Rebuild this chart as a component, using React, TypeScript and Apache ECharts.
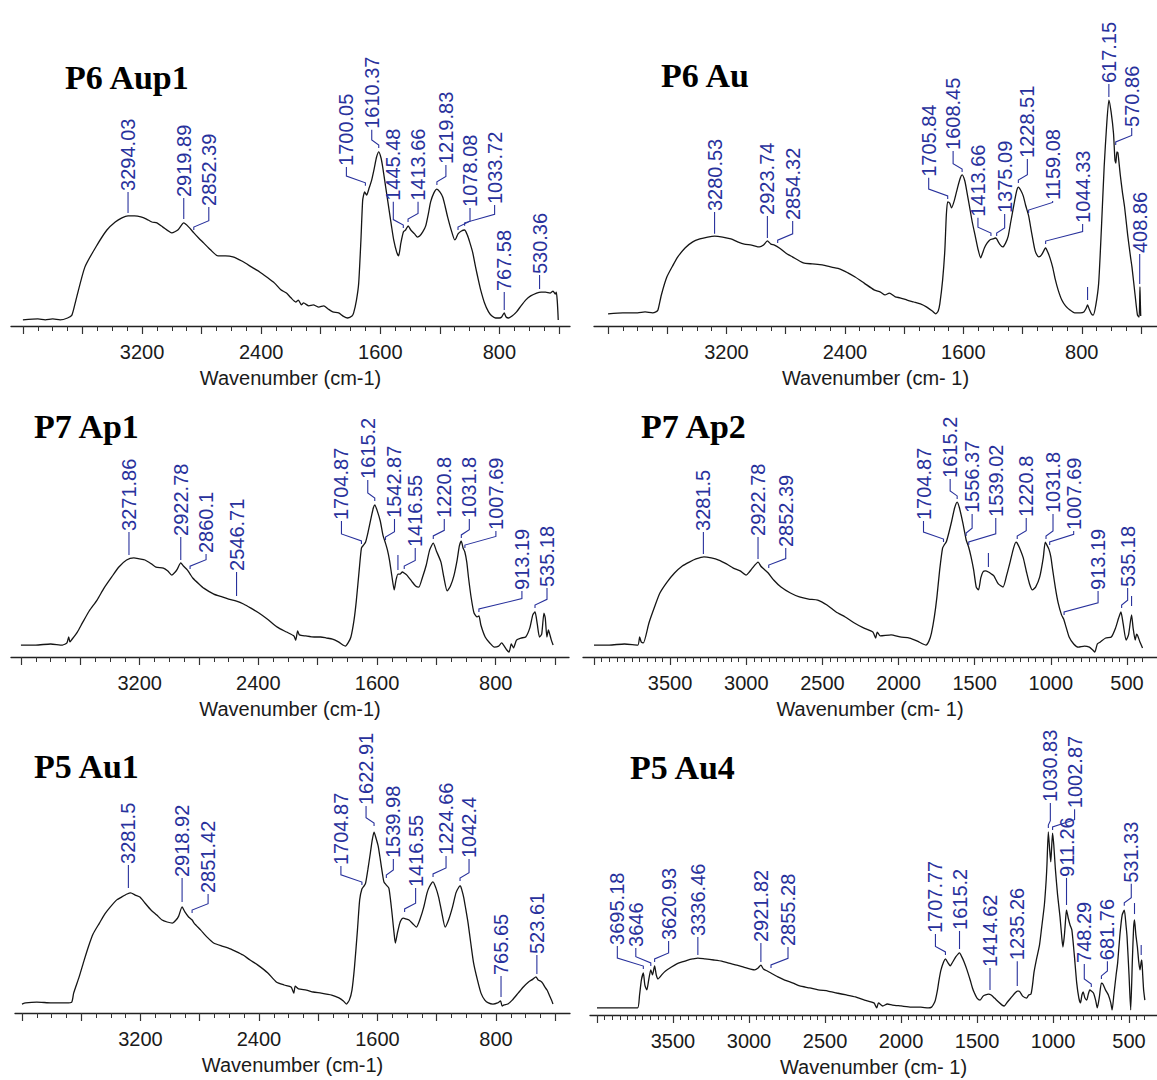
import { useEffect, useRef } from "react";
import * as echarts from "echarts";

type Point = [number, number];
// wavenumber, label text, leader start value, text start value, column shift (px)
type Peak = [number, string, number, number, number];

const BLUE = "#28319c";
const INK = "#151515";

const sampleTitles = ["P6 Aup1", "P6 Au", "P7 Ap1", "P7 Ap2", "P5 Au1", "P5 Au4"];

// tick values of the wavenumber axes
const labels800 = [800, 1600, 2400, 3200];
const labels500 = [500, 1000, 1500, 2000, 2500, 3000, 3500];
const steps = (from: number, to: number, step: number) => {
  const out: number[] = [];
  for (let v = from; v <= to; v += step) out.push(v);
  return out;
};
const ticks100 = steps(400, 4000, 100);
const ticks400 = steps(400, 4000, 400);
const ticks50 = steps(400, 4000, 50);
const ticks500 = steps(500, 4000, 500);

// ---- P6 Aup1 ----
const aup1Spectrum: Point[] = [
  [4000, 1.9], [3900, 2.2], [3850, 1.9], [3800, 2.2], [3750, 1.9], [3700, 2.5], [3671, 3.4], [3644, 8.1],
  [3584, 18.4], [3510, 24.7], [3436, 30.0], [3380, 32.5], [3335, 33.8], [3294, 34.4], [3250, 34.4],
  [3208, 34.1], [3170, 33.4], [3134, 32.5], [3100, 32.2], [3060, 30.9], [3000, 29.1], [2960, 30.0],
  [2920, 32.2], [2886, 30.9], [2852, 29.1], [2820, 27.5], [2785, 25.9], [2740, 23.8], [2690, 21.9],
  [2640, 21.9], [2590, 21.6], [2530, 20.3], [2463, 18.4], [2410, 16.9], [2363, 15.3], [2310, 13.4],
  [2268, 11.3], [2230, 10.3], [2200, 8.8], [2168, 7.5], [2150, 8.1], [2130, 6.6], [2115, 7.2],
  [2080, 6.3], [2050, 6.6], [2013, 5.9], [1980, 6.3], [1950, 5.3], [1919, 4.4], [1880, 4.1], [1850, 3.1],
  [1819, 2.5], [1790, 3.1], [1779, 4.1], [1760, 8.1], [1745, 13.4], [1730, 26.9], [1718, 39.4],
  [1705, 41.9], [1692, 40.9], [1675, 43.1], [1658, 45.6], [1640, 49.4], [1625, 52.8], [1610, 54.4],
  [1595, 52.5], [1584, 49.7], [1565, 43.8], [1544, 37.2], [1525, 31.3], [1510, 26.9], [1490, 23.1],
  [1477, 21.9], [1462, 25.9], [1445, 29.4], [1430, 30.0], [1413, 31.3], [1395, 30.0], [1370, 28.8],
  [1350, 27.8], [1336, 28.1], [1315, 29.4], [1295, 31.3], [1275, 35.6], [1262, 38.8], [1240, 41.6],
  [1220, 42.8], [1200, 41.9], [1181, 40.3], [1165, 37.5], [1148, 34.1], [1120, 29.4], [1100, 26.9],
  [1090, 27.5], [1078, 28.8], [1055, 29.7], [1034, 30.0], [1015, 28.4], [1000, 26.3], [980, 23.1],
  [960, 18.4], [940, 14.1], [926, 11.3], [900, 7.2], [873, 4.4], [850, 3.1], [826, 2.5], [800, 2.5],
  [785, 2.8], [768, 4.1], [755, 2.8], [738, 2.5], [715, 3.1], [685, 4.4], [655, 6.3], [624, 8.1],
  [590, 9.4], [550, 10.3], [520, 10.6], [490, 10.6], [460, 10.3], [440, 10.9], [425, 10.0], [418, 10.6],
  [412, 8.1], [408, 5.0], [405, 1.9],
];
const aup1Peaks: Peak[] = [
  [3294.03, "3294.03", 35.3, 41.9, 0], [2919.89, "2919.89", 33.4, 40.0, 0], [2852.39, "2852.39", 30.0, 37.2, 15],
  [1700.05, "1700.05", 43.8, 49.7, -19], [1610.37, "1610.37", 55.6, 61.3, -7], [1445.48, "1445.48", 30.6, 38.8, -10],
  [1413.66, "1413.66", 32.5, 38.8, 10], [1219.83, "1219.83", 44.1, 50.3, 9], [1078.08, "1078.08", 30.0, 36.9, 12],
  [1033.72, "1033.72", 31.3, 37.8, 30], [767.58, "767.58", 5.0, 10.6, 0], [530.36, "530.36", 11.6, 15.9, 0],
];

// ---- P6 Au ----
const auSpectrum: Point[] = [
  [4000, 3.8], [3900, 4.1], [3800, 4.1], [3750, 4.4], [3700, 4.1], [3677, 4.4], [3663, 5.0], [3640, 9.7],
  [3603, 15.3], [3560, 19.1], [3529, 21.6], [3480, 24.4], [3428, 26.3], [3380, 27.2], [3327, 27.8],
  [3280, 28.1], [3226, 27.8], [3170, 27.2], [3125, 26.3], [3080, 25.6], [3031, 25.3], [2977, 24.7],
  [2950, 25.3], [2924, 26.6], [2900, 25.6], [2876, 25.3], [2843, 24.4], [2800, 22.8], [2755, 21.6],
  [2681, 19.7], [2620, 19.4], [2553, 19.1], [2490, 18.4], [2432, 17.8], [2380, 16.6], [2331, 15.3],
  [2270, 13.4], [2203, 11.3], [2160, 10.6], [2129, 9.7], [2100, 10.3], [2060, 9.1], [2028, 8.8],
  [1980, 8.1], [1934, 7.5], [1890, 6.9], [1847, 5.9], [1810, 4.7], [1786, 3.8], [1770, 4.7], [1759, 6.9],
  [1740, 14.4], [1725, 23.8], [1715, 34.7], [1706, 38.8], [1692, 38.4], [1680, 36.9], [1660, 39.4],
  [1640, 43.1], [1620, 46.3], [1608, 47.2], [1590, 45.3], [1575, 41.6], [1558, 37.2], [1540, 32.5],
  [1521, 28.4], [1500, 23.8], [1483, 21.3], [1470, 22.8], [1458, 24.4], [1440, 25.9], [1421, 26.9],
  [1400, 27.2], [1384, 27.5], [1375, 27.2], [1355, 25.6], [1334, 24.7], [1315, 25.9], [1297, 28.1],
  [1280, 32.5], [1259, 37.8], [1240, 42.2], [1228, 43.4], [1210, 42.2], [1195, 40.6], [1180, 37.8],
  [1159, 34.4], [1140, 29.4], [1120, 24.4], [1110, 22.8], [1090, 21.6], [1072, 22.2], [1050, 24.1],
  [1044, 24.4], [1030, 23.1], [1015, 21.3], [997, 18.4], [980, 14.7], [960, 11.3], [935, 8.1], [910, 6.3],
  [880, 5.0], [848, 4.1], [810, 4.1], [786, 4.4], [770, 5.6], [761, 6.6], [750, 5.3], [735, 3.8],
  [723, 3.4], [705, 6.6], [686, 13.4], [668, 30.0], [649, 49.7], [632, 62.8], [617, 70.6], [602, 66.9],
  [586, 60.3], [576, 51.9], [570, 50.9], [563, 54.4], [556, 54.1], [540, 47.2], [525, 41.6], [511, 37.2],
  [490, 28.4], [470, 21.3], [461, 18.4], [440, 9.7], [424, 3.4], [413, 2.8], [409, 8.1], [407, 12.2],
  [405, 8.1], [402, 3.1],
];
const auPeaks: Peak[] = [
  [3280.53, "3280.53", 28.8, 35.6, 0], [2923.74, "2923.74", 27.5, 34.4, 0], [2854.32, "2854.32", 25.9, 32.8, 15],
  [1705.84, "1705.84", 39.7, 46.3, -19], [1608.45, "1608.45", 48.1, 54.7, -9], [1413.66, "1413.66", 28.1, 33.8, -13],
  [1375.09, "1375.09", 28.1, 35.0, 8], [1228.51, "1228.51", 44.7, 52.2, 9], [1159.08, "1159.08", 35.3, 39.1, 24],
  [1044.33, "1044.33", 25.6, 31.9, 37], [761, "", 8.1, 12.2, 0], [617.15, "617.15", 71.6, 75.6, 0],
  [570.86, "570.86", 56.6, 61.9, 16], [408.86, "408.86", 13.1, 22.5, 0],
];

// ---- P7 Ap1 ----
const ap1Spectrum: Point[] = [
  [4000, 4.6], [3900, 4.6], [3800, 5.0], [3720, 4.6], [3690, 5.4], [3678, 7.7], [3670, 5.8], [3660, 6.5],
  [3620, 9.6], [3586, 13.1], [3540, 17.7], [3487, 21.9], [3440, 26.5], [3388, 30.8], [3340, 34.6],
  [3288, 37.3], [3239, 38.1], [3200, 37.7], [3164, 37.3], [3120, 35.8], [3090, 34.6], [3040, 34.2],
  [3010, 33.1], [2983, 31.5], [2960, 32.7], [2946, 33.8], [2923, 36.2], [2905, 35.0], [2879, 33.5],
  [2860, 31.9], [2842, 30.4], [2800, 28.1], [2768, 26.5], [2700, 24.2], [2644, 23.1], [2600, 22.3],
  [2547, 21.5], [2500, 20.4], [2450, 18.8], [2396, 16.9], [2340, 14.6], [2272, 11.5], [2210, 9.6],
  [2160, 8.1], [2148, 6.5], [2135, 10.0], [2123, 8.5], [2080, 8.1], [2024, 7.7], [1980, 7.7], [1940, 7.3],
  [1900, 6.9], [1860, 5.8], [1830, 4.6], [1813, 4.2], [1795, 5.4], [1776, 7.7], [1755, 14.2], [1739, 21.9],
  [1720, 33.5], [1705, 41.9], [1690, 43.1], [1677, 44.2], [1660, 48.1], [1640, 53.5], [1625, 57.3],
  [1615, 58.5], [1600, 56.5], [1578, 52.3], [1560, 46.9], [1543, 43.8], [1530, 41.2], [1516, 37.3],
  [1500, 31.2], [1484, 25.8], [1472, 29.6], [1459, 31.9], [1445, 31.9], [1429, 32.7], [1417, 32.3],
  [1399, 31.5], [1367, 29.2], [1340, 27.3], [1318, 26.9], [1295, 30.4], [1268, 35.4], [1245, 41.2],
  [1221, 43.8], [1200, 40.8], [1169, 36.5], [1150, 30.8], [1127, 25.4], [1105, 27.3], [1082, 31.2],
  [1060, 37.3], [1045, 42.7], [1032, 44.6], [1020, 41.9], [1008, 40.4], [995, 36.5], [983, 30.4],
  [965, 22.7], [946, 16.9], [925, 15.4], [913, 15.8], [900, 12.3], [871, 7.7], [840, 5.4], [809, 3.8],
  [780, 4.2], [760, 5.4], [747, 4.6], [725, 2.7], [710, 1.9], [695, 5.0], [680, 3.5], [660, 6.5],
  [630, 7.3], [598, 7.7], [570, 11.2], [550, 16.2], [535, 17.3], [520, 12.7], [505, 7.7], [490, 8.8],
  [475, 16.9], [466, 15.0], [455, 7.7], [445, 10.4], [438, 9.2], [425, 6.5], [413, 4.6],
];
const ap1Peaks: Peak[] = [
  [3271.86, "3271.86", 39.2, 48.1, 0], [2922.78, "2922.78", 37.3, 46.2, 0], [2860.1, "2860.1", 33.8, 39.6, 16],
  [2546.71, "2546.71", 23.5, 32.7, 0], [1704.87, "1704.87", 43.5, 52.3, -20], [1615.2, "1615.2", 60.0, 68.1, -7],
  [1542.87, "1542.87", 45.0, 53.1, 9], [1459, "", 33.5, 39.2, 0], [1416.55, "1416.55", 33.8, 41.9, 11],
  [1220.8, "1220.8", 45.4, 53.1, 11], [1031.8, "1031.8", 45.8, 53.1, 8], [1007.69, "1007.69", 41.9, 48.5, 31],
  [913.19, "913.19", 17.3, 25.4, 43], [535.18, "535.18", 18.8, 26.5, 12],
];

// ---- P7 Ap2 ----
const ap2Spectrum: Point[] = [
  [4000, 4.6], [3900, 4.6], [3800, 5.0], [3712, 4.6], [3700, 7.7], [3690, 5.8], [3676, 5.4], [3639, 13.1],
  [3600, 19.6], [3567, 24.6], [3520, 28.8], [3471, 32.3], [3420, 35.0], [3374, 36.5], [3330, 37.7],
  [3278, 38.5], [3230, 38.1], [3181, 37.3], [3130, 35.8], [3085, 34.2], [3040, 33.1], [3001, 31.5],
  [2980, 32.7], [2965, 33.8], [2922, 36.5], [2905, 35.0], [2892, 34.2], [2856, 32.3], [2820, 29.6],
  [2772, 26.9], [2710, 24.6], [2651, 23.1], [2590, 22.3], [2531, 21.9], [2470, 20.0], [2410, 17.3],
  [2350, 15.4], [2290, 13.1], [2230, 11.2], [2169, 9.6], [2150, 7.3], [2140, 9.6], [2120, 8.1],
  [2049, 8.5], [1990, 7.7], [1928, 7.3], [1880, 6.2], [1840, 5.0], [1820, 4.6], [1800, 6.2], [1784, 9.2],
  [1765, 15.4], [1748, 23.1], [1730, 33.5], [1711, 41.9], [1700, 43.1], [1687, 44.2], [1670, 47.7],
  [1651, 52.3], [1632, 57.3], [1615, 59.6], [1600, 57.3], [1579, 51.9], [1565, 47.7], [1556, 45.0],
  [1540, 42.3], [1525, 38.8], [1507, 33.5], [1490, 26.9], [1475, 25.8], [1460, 30.4], [1446, 32.7],
  [1430, 33.1], [1410, 32.7], [1390, 31.9], [1374, 31.2], [1345, 28.1], [1314, 26.9], [1290, 31.5],
  [1266, 36.9], [1245, 41.9], [1229, 44.2], [1221, 43.8], [1200, 41.2], [1181, 38.1], [1160, 32.7],
  [1140, 28.1], [1121, 25.8], [1100, 26.9], [1073, 30.8], [1050, 38.1], [1037, 44.2], [1030, 43.5],
  [1013, 41.5], [1000, 38.5], [988, 33.5], [970, 26.5], [952, 20.8], [930, 16.2], [916, 14.6], [900, 11.5],
  [880, 7.7], [850, 5.0], [820, 3.8], [780, 4.2], [747, 3.8], [725, 2.7], [711, 1.9], [695, 5.0],
  [675, 5.8], [640, 7.3], [603, 7.7], [575, 11.2], [555, 15.0], [540, 17.3], [525, 12.7], [506, 6.5],
  [490, 8.5], [470, 16.2], [460, 11.2], [446, 6.5], [437, 8.8], [429, 8.1], [415, 5.8], [398, 3.5],
];
const ap2Peaks: Peak[] = [
  [3281.5, "3281.5", 39.6, 48.1, 0], [2922.78, "2922.78", 37.7, 46.2, 0], [2852.39, "2852.39", 34.2, 41.9, 17],
  [1704.87, "1704.87", 44.2, 52.3, -20], [1615.2, "1615.2", 60.8, 68.5, -7], [1556.37, "1556.37", 46.5, 55.0, 6],
  [1539.02, "1539.02", 43.1, 53.5, 27], [1410, "", 34.6, 40.0, 0], [1220.8, "1220.8", 45.4, 53.5, 9],
  [1031.8, "1031.8", 45.4, 55.0, 7], [1007.69, "1007.69", 43.1, 48.5, 24], [913.19, "913.19", 16.2, 25.4, 34],
  [535.18, "535.18", 18.8, 26.5, 6], [470, "", 19.6, 23.5, 0],
];

// ---- P5 Au1 ----
const au1Spectrum: Point[] = [
  [4000, 3.2], [3975, 3.6], [3900, 3.9], [3800, 3.6], [3700, 3.6], [3664, 3.9], [3651, 7.1], [3614, 12.9],
  [3580, 18.9], [3552, 23.6], [3520, 28.2], [3477, 32.1], [3440, 35.4], [3403, 37.9], [3360, 40.4],
  [3328, 41.4], [3290, 42.5], [3266, 42.9], [3235, 42.1], [3204, 41.4], [3170, 39.3], [3129, 36.8],
  [3090, 35.0], [3054, 33.2], [3020, 32.5], [2985, 32.1], [2960, 33.2], [2942, 34.6], [2919, 37.9],
  [2900, 36.1], [2875, 34.3], [2851, 33.2], [2838, 32.1], [2793, 29.6], [2750, 27.1], [2706, 25.0],
  [2650, 23.9], [2606, 23.2], [2560, 22.1], [2507, 20.7], [2460, 18.9], [2407, 17.1], [2340, 14.3],
  [2283, 11.1], [2230, 10.0], [2183, 9.3], [2165, 7.1], [2155, 9.6], [2133, 8.6], [2080, 8.2], [2034, 7.5],
  [1980, 7.1], [1909, 6.4], [1860, 5.4], [1830, 4.3], [1810, 3.2], [1790, 4.6], [1772, 8.2], [1755, 16.4],
  [1735, 29.6], [1720, 40.4], [1705, 44.3], [1690, 45.4], [1680, 46.4], [1665, 51.1], [1648, 57.1],
  [1635, 61.8], [1623, 64.6], [1610, 62.5], [1595, 59.6], [1580, 54.6], [1565, 49.3], [1556, 46.8],
  [1540, 45.7], [1523, 44.6], [1510, 39.6], [1499, 34.3], [1488, 28.6], [1479, 25.0], [1465, 28.6],
  [1449, 32.1], [1435, 33.6], [1424, 33.9], [1410, 33.6], [1387, 33.2], [1360, 31.8], [1337, 30.7],
  [1310, 33.9], [1287, 37.9], [1265, 42.9], [1250, 45.0], [1225, 46.8], [1205, 44.6], [1187, 41.4],
  [1165, 35.7], [1143, 30.7], [1120, 33.2], [1093, 37.9], [1070, 42.9], [1050, 45.0], [1040, 45.4],
  [1030, 43.9], [1018, 41.4], [1005, 37.5], [988, 32.1], [970, 25.0], [951, 17.9], [925, 11.8], [901, 7.1],
  [875, 4.6], [851, 3.6], [820, 3.2], [789, 3.6], [769, 4.3], [758, 2.5], [745, 2.9], [720, 3.2], [690, 4.6],
  [650, 7.1], [615, 9.3], [580, 11.1], [550, 12.1], [530, 12.9], [515, 11.8], [500, 11.4], [485, 10.7],
  [470, 9.3], [455, 8.2], [440, 6.4], [425, 4.6], [415, 3.2],
];
const au1Peaks: Peak[] = [
  [3281.5, "3281.5", 44.6, 52.9, 0], [2918.92, "2918.92", 39.6, 48.2, 0], [2851.42, "2851.42", 35.7, 42.5, 16],
  [1704.87, "1704.87", 45.7, 52.5, -21], [1622.91, "1622.91", 66.8, 73.9, -8], [1539.98, "1539.98", 48.2, 55.0, 7],
  [1416.55, "1416.55", 36.1, 44.6, 11], [1224.66, "1224.66", 48.6, 56.1, 13], [1042.4, "1042.4", 47.1, 55.0, 9],
  [765.65, "765.65", 5.7, 13.2, 0], [523.61, "523.61", 13.9, 20.7, 0],
];

// ---- P5 Au4 ----
const au4Spectrum: Point[] = [
  [4000, 2.5], [3900, 2.5], [3800, 2.5], [3733, 2.5], [3720, 7.1], [3708, 12.4], [3695, 14.9], [3685, 10.6],
  [3672, 8.9], [3660, 12.4], [3646, 16.0], [3635, 14.2], [3621, 17.4], [3610, 14.2], [3598, 12.8],
  [3570, 14.5], [3549, 15.6], [3510, 17.0], [3475, 18.1], [3440, 18.8], [3402, 19.5], [3370, 19.9],
  [3336, 20.2], [3290, 19.9], [3231, 19.5], [3180, 19.1], [3133, 18.4], [3080, 17.7], [3035, 17.0],
  [2990, 16.3], [2962, 16.0], [2940, 16.7], [2922, 17.7], [2905, 16.3], [2880, 15.6], [2856, 14.9],
  [2810, 13.5], [2765, 12.4], [2710, 11.3], [2667, 10.3], [2600, 9.6], [2545, 8.9], [2480, 8.5],
  [2423, 7.8], [2360, 7.1], [2300, 6.4], [2240, 5.3], [2178, 4.3], [2160, 2.5], [2148, 4.3], [2120, 3.2],
  [2090, 3.9], [2056, 3.5], [2000, 3.2], [1933, 2.8], [1870, 2.8], [1820, 2.5], [1799, 2.8], [1785, 3.9],
  [1774, 5.3], [1760, 8.9], [1750, 12.4], [1737, 16.0], [1720, 18.8], [1708, 19.9], [1690, 18.4],
  [1676, 17.4], [1660, 18.8], [1640, 20.6], [1625, 21.6], [1615, 22.0], [1600, 20.6], [1585, 18.8],
  [1566, 16.0], [1545, 12.4], [1530, 9.6], [1517, 7.8], [1500, 6.0], [1480, 5.3], [1460, 6.7], [1444, 7.1],
  [1425, 7.4], [1407, 7.1], [1385, 6.0], [1358, 4.6], [1335, 3.5], [1321, 3.2], [1300, 4.6], [1272, 6.4],
  [1250, 7.8], [1235, 8.5], [1223, 8.5], [1200, 6.7], [1174, 6.0], [1160, 7.1], [1145, 7.4], [1135, 10.6],
  [1125, 15.2], [1110, 19.5], [1089, 24.8], [1075, 30.9], [1057, 39.0], [1045, 47.9], [1040, 53.2],
  [1031, 64.9], [1022, 58.5], [1015, 54.3], [1010, 58.5], [1003, 64.5], [995, 60.3], [985, 52.1],
  [970, 42.6], [954, 34.8], [942, 27.3], [935, 24.1], [925, 28.4], [915, 35.5], [911, 37.2], [900, 34.4],
  [888, 31.9], [876, 30.1], [860, 21.3], [844, 11.3], [830, 6.0], [819, 4.3], [810, 7.1], [802, 8.2],
  [790, 6.0], [778, 5.3], [768, 7.4], [758, 8.9], [748, 8.5], [734, 7.8], [720, 5.3], [709, 2.5],
  [695, 6.4], [682, 11.3], [672, 11.0], [655, 8.9], [636, 7.1], [620, 4.3], [611, 1.8], [600, 7.1],
  [585, 14.2], [575, 18.4], [560, 28.4], [545, 35.5], [531, 37.2], [520, 31.9], [513, 27.7], [500, 14.2],
  [489, 1.8], [478, 19.5], [470, 30.9], [464, 33.7], [455, 28.4], [445, 24.1], [436, 18.8], [428, 16.0],
  [420, 18.8], [416, 19.5], [410, 14.2], [404, 8.9], [396, 5.3],
];
const au4Peaks: Peak[] = [
  [3695.18, "3695.18", 16.3, 24.5, -26], [3646, "3646", 17.4, 23.8, -15], [3620.93, "3620.93", 18.8, 26.2, 14],
  [3336.46, "3336.46", 21.3, 27.7, 0], [2921.82, "2921.82", 18.8, 25.5, 0], [2855.28, "2855.28", 16.7, 24.1, 17],
  [1707.77, "1707.77", 21.3, 28.7, -10], [1615.2, "1615.2", 23.4, 29.8, 0], [1414.62, "1414.62", 8.9, 16.7, 0],
  [1235.26, "1235.26", 10.3, 19.1, 0], [1030.83, "1030.83", 66.3, 75.2, 2], [1002.87, "1002.87", 65.6, 73.0, 22],
  [911.26, "911.26", 39.0, 48.6, 0], [748.29, "748.29", 9.9, 18.1, -7], [681.76, "681.76", 12.8, 19.1, 6],
  [531.33, "531.33", 38.7, 46.5, 7], [464, "", 35.8, 39.7, 0], [420, "", 21.3, 24.8, 0],
];

type Panel = {
  title: string;
  spectrum: Point[];
  peaks: Peak[];
  box: { left: number; top: number; width: number; height: number };
  min: number;
  max: number;
  fine: boolean; // 500-step labelling with 50-step ticks
  axisName: string;
  titleAt: [number, number];
};

const panels: Panel[] = [
  { title: sampleTitles[0], spectrum: aup1Spectrum, peaks: aup1Peaks, box: { left: 11, top: 6, width: 559, height: 320 }, min: 326, max: 4080, fine: false, axisName: "Wavenumber (cm-1)", titleAt: [65, 77] },
  { title: sampleTitles[1], spectrum: auSpectrum, peaks: auPeaks, box: { left: 594, top: 6, width: 563, height: 320 }, min: 292, max: 4095, fine: false, axisName: "Wavenumber (cm- 1)", titleAt: [661, 75] },
  { title: sampleTitles[2], spectrum: ap1Spectrum, peaks: ap1Peaks, box: { left: 11, top: 397, width: 558, height: 260 }, min: 306, max: 4067, fine: false, axisName: "Wavenumber (cm-1)", titleAt: [34, 426] },
  { title: sampleTitles[3], spectrum: ap2Spectrum, peaks: ap2Peaks, box: { left: 583, top: 397, width: 574, height: 260 }, min: 303, max: 4072, fine: true, axisName: "Wavenumber (cm- 1)", titleAt: [641, 426] },
  { title: sampleTitles[4], spectrum: au1Spectrum, peaks: au1Peaks, box: { left: 15, top: 733, width: 555, height: 280 }, min: 300, max: 4047, fine: false, axisName: "Wavenumber (cm-1)", titleAt: [34, 766] },
  { title: sampleTitles[5], spectrum: au4Spectrum, peaks: au4Peaks, box: { left: 590, top: 733, width: 567, height: 282 }, min: 316, max: 4046, fine: true, axisName: "Wavenumber (cm- 1)", titleAt: [630, 767] },
];

const SANS = "'Liberation Sans', Arial, sans-serif";

function peakRenderer(peaks: Peak[]) {
  return (params: any, api: any) => {
    const [wn, text, vStart, vText, dx] = peaks[params.dataIndex];
    const p = api.coord([wn, vStart]);
    const t = api.coord([wn, vText]);
    const x0 = p[0];
    const y0 = p[1];
    const yT = t[1];
    const x1 = x0 + dx;
    let pts: number[][];
    if (dx === 0) {
      pts = [[x0, y0], [x0, yT]];
    } else {
      const yA = Math.max(y0 - 3, yT);
      const yB = Math.max(yA - (4 + Math.abs(dx) * 0.15), yT);
      pts = [[x0, y0], [x0, yA], [x1, yB], [x1, yT]];
    }
    const children: any[] = [
      { type: "polyline", shape: { points: pts }, style: { stroke: BLUE, lineWidth: 1.1, fill: "none" }, silent: true },
    ];
    if (text) {
      children.push({
        type: "text",
        x: x1,
        y: yT - 1,
        rotation: Math.PI / 2,
        style: { text, fill: BLUE, fontSize: 20, fontFamily: SANS, align: "left", verticalAlign: "middle" },
        silent: true,
      });
    }
    return { type: "group", children };
  };
}

function buildOption() {
  const grid = panels.map((p) => ({ ...p.box, containLabel: false }));
  const xAxis: any[] = [];
  const yAxis: any[] = [];
  const series: any[] = [];
  panels.forEach((p, i) => {
    const minor = p.fine ? ticks50 : ticks100;
    const major = p.fine ? ticks500 : ticks400;
    const labelled = p.fine ? labels500 : labels800;
    xAxis.push({
      gridIndex: i, type: "value", min: p.min, max: p.max, inverse: true, position: "bottom",
      axisLine: { show: true, lineStyle: { color: "#222", width: 1.3 } },
      axisTick: { show: true, customValues: minor, length: 5, lineStyle: { color: "#333", width: 1 } },
      axisLabel: { show: false }, splitLine: { show: false },
    });
    xAxis.push({
      gridIndex: i, type: "value", min: p.min, max: p.max, inverse: true, position: "bottom",
      axisLine: { show: false },
      axisTick: { show: true, customValues: major, length: 8, lineStyle: { color: "#333", width: 1.2 } },
      axisLabel: {
        show: true, customValues: labelled, margin: 16, fontSize: 20, fontFamily: SANS, color: "#1a1a1a",
        formatter: (v: number) => String(v),
      },
      splitLine: { show: false },
      name: p.axisName, nameLocation: "middle", nameGap: 42,
      nameTextStyle: { fontSize: 20, fontFamily: SANS, color: "#1a1a1a" },
    });
    yAxis.push({ gridIndex: i, type: "value", min: 0, max: 100, show: false });
    series.push({
      type: "line", xAxisIndex: i * 2, yAxisIndex: i, data: p.spectrum, showSymbol: false, smooth: 0.2,
      lineStyle: { color: INK, width: 1.3 }, silent: true, z: 3,
    });
    series.push({
      type: "custom", xAxisIndex: i * 2, yAxisIndex: i, clip: false, silent: true, z: 4,
      data: p.peaks.map((pk) => [pk[0], pk[2]]),
      renderItem: peakRenderer(p.peaks),
    });
  });
  const graphic = panels.map((p) => ({
    type: "text", x: p.titleAt[0], y: p.titleAt[1], silent: true,
    style: {
      text: p.title, fill: "#000", fontSize: 34, fontWeight: "bold",
      fontFamily: "'Liberation Serif', 'Times New Roman', serif", verticalAlign: "middle",
    },
  }));
  return { animation: false, backgroundColor: "#ffffff", grid, xAxis, yAxis, series, graphic };
}

export default function App() {
  const ref = useRef<HTMLDivElement>(null);
  useEffect(() => {
    if (!ref.current) return;
    const chart = echarts.init(ref.current, undefined, { renderer: "svg" });
    chart.setOption(buildOption() as any);
    return () => chart.dispose();
  }, []);
  return (
    <div
      ref={ref}
      style={{ position: "absolute", left: 0, top: 0, width: 1157, height: 1080, background: "#fff" }}
    />
  );
}
